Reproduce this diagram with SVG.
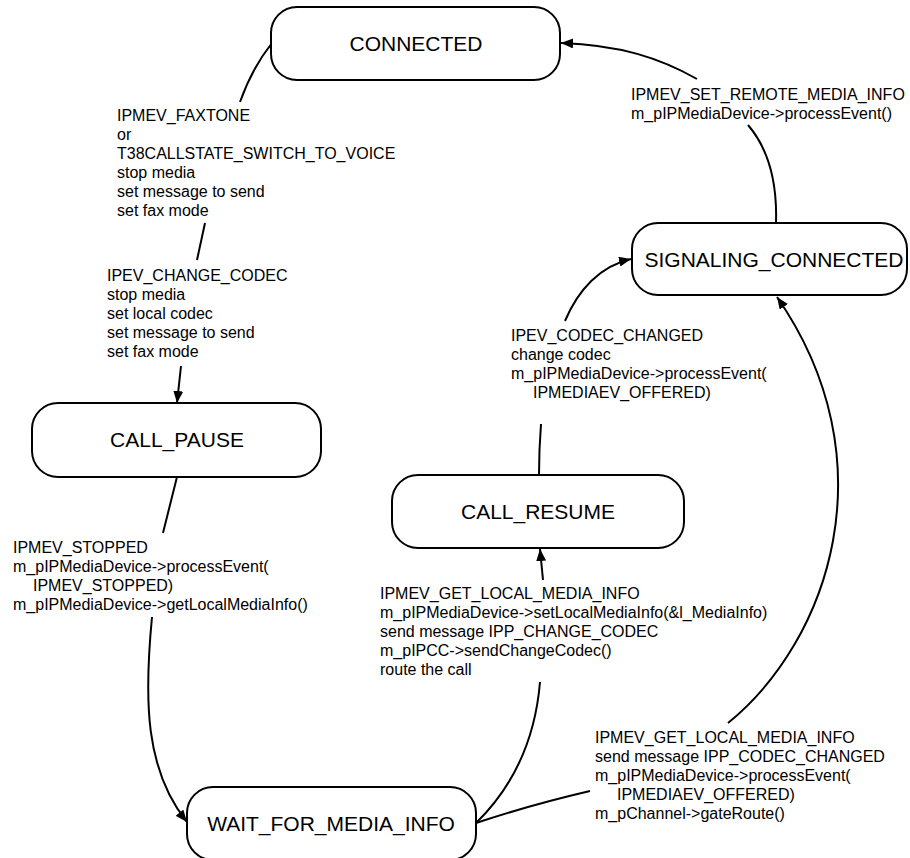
<svg xmlns="http://www.w3.org/2000/svg" width="910" height="858" viewBox="0 0 910 858">
  <defs>
    <marker id="arrow" viewBox="0 0 12 10" refX="12" refY="5" markerWidth="12" markerHeight="10" markerUnits="userSpaceOnUse" orient="auto">
      <path d="M0,0 L12,5 L0,10 Z" fill="#000"/>
    </marker>
  </defs>
  <style>
    .state rect { fill: #fff; stroke: #000; stroke-width: 2; }
    .state text { font-family: "Liberation Sans", Arial, sans-serif; font-size: 21px; fill: #000; text-anchor: middle; }
    .edge { fill: none; stroke: #000; stroke-width: 2; }
    .lbl { font-family: "Liberation Sans", Arial, sans-serif; font-size: 16px; fill: #000; }
  </style>
  <rect width="910" height="858" fill="#fff"/>

  <!-- connectors -->
  <g id="connectors">
    <!-- CONNECTED -> CALL_PAUSE -->
    <path class="edge" d="M272,43 Q252,68 240,102"/>
    <path class="edge" d="M205,223 L197,260"/>
    <path class="edge" d="M181,366 L177,403" marker-end="url(#arrow)"/>
    <!-- CALL_PAUSE -> WAIT_FOR_MEDIA_INFO -->
    <path class="edge" d="M177,477 L163,533"/>
    <path class="edge" d="M152,617 C144,700 145,770 187,822" marker-end="url(#arrow)"/>
    <!-- WAIT_FOR_MEDIA_INFO -> CALL_RESUME -->
    <path class="edge" d="M476,823 C520,780 536,730 540,682"/>
    <path class="edge" d="M543,580 L540,549" marker-end="url(#arrow)"/>
    <!-- CALL_RESUME -> SIGNALING_CONNECTED -->
    <path class="edge" d="M539,475 Q539,450 541,424"/>
    <path class="edge" d="M565,321 C578,290 600,266 631,259" marker-end="url(#arrow)"/>
    <!-- WAIT_FOR_MEDIA_INFO -> SIGNALING_CONNECTED -->
    <path class="edge" d="M476,823 Q530,805 590,791"/>
    <path class="edge" d="M728,723 C830,640 890,460 777,297" marker-end="url(#arrow)"/>
    <!-- SIGNALING_CONNECTED -> CONNECTED -->
    <path class="edge" d="M776,223 Q778,160 748,125"/>
    <path class="edge" d="M697,79 C660,58 620,45 561,43" marker-end="url(#arrow)"/>
  </g>

  <!-- transition labels -->
  <g id="labels">
    <text class="lbl" x="117" y="121">IPMEV_FAXTONE</text>
    <text class="lbl" x="117" y="140">or</text>
    <text class="lbl" x="117" y="159">T38CALLSTATE_SWITCH_TO_VOICE</text>
    <text class="lbl" x="117" y="178">stop media</text>
    <text class="lbl" x="117" y="197">set message to send</text>
    <text class="lbl" x="117" y="216">set fax mode</text>

    <text class="lbl" x="107" y="281">IPEV_CHANGE_CODEC</text>
    <text class="lbl" x="107" y="300">stop media</text>
    <text class="lbl" x="107" y="319">set local codec</text>
    <text class="lbl" x="107" y="338">set message to send</text>
    <text class="lbl" x="107" y="357">set fax mode</text>

    <text class="lbl" x="13" y="553">IPMEV_STOPPED</text>
    <text class="lbl" x="13" y="572">m_pIPMediaDevice-&gt;processEvent(</text>
    <text class="lbl" x="33" y="591">IPMEV_STOPPED)</text>
    <text class="lbl" x="13" y="610">m_pIPMediaDevice-&gt;getLocalMediaInfo()</text>

    <text class="lbl" x="380" y="599">IPMEV_GET_LOCAL_MEDIA_INFO</text>
    <text class="lbl" x="380" y="618">m_pIPMediaDevice-&gt;setLocalMediaInfo(&amp;l_MediaInfo)</text>
    <text class="lbl" x="380" y="637">send message IPP_CHANGE_CODEC</text>
    <text class="lbl" x="380" y="656">m_pIPCC-&gt;sendChangeCodec()</text>
    <text class="lbl" x="380" y="675">route the call</text>

    <text class="lbl" x="511" y="341">IPEV_CODEC_CHANGED</text>
    <text class="lbl" x="511" y="360">change codec</text>
    <text class="lbl" x="511" y="379">m_pIPMediaDevice-&gt;processEvent(</text>
    <text class="lbl" x="533" y="398">IPMEDIAEV_OFFERED)</text>

    <text class="lbl" x="595" y="743">IPMEV_GET_LOCAL_MEDIA_INFO</text>
    <text class="lbl" x="595" y="762">send message IPP_CODEC_CHANGED</text>
    <text class="lbl" x="595" y="781">m_pIPMediaDevice-&gt;processEvent(</text>
    <text class="lbl" x="617" y="800">IPMEDIAEV_OFFERED)</text>
    <text class="lbl" x="595" y="819">m_pChannel-&gt;gateRoute()</text>

    <text class="lbl" x="631" y="100">IPMEV_SET_REMOTE_MEDIA_INFO</text>
    <text class="lbl" x="631" y="119">m_pIPMediaDevice-&gt;processEvent()</text>
  </g>

  <!-- states -->
  <g id="CONNECTED" class="state">
    <rect x="271" y="7" width="289" height="73" rx="26" ry="26"/>
    <text x="416" y="51">CONNECTED</text>
  </g>
  <g id="SIGNALING_CONNECTED" class="state">
    <rect x="632" y="223" width="275" height="72" rx="26" ry="26"/>
    <text x="774" y="267">SIGNALING_CONNECTED</text>
  </g>
  <g id="CALL_PAUSE" class="state">
    <rect x="32" y="403" width="289" height="74" rx="26" ry="26"/>
    <text x="177" y="447">CALL_PAUSE</text>
  </g>
  <g id="CALL_RESUME" class="state">
    <rect x="392" y="475" width="292" height="73" rx="26" ry="26"/>
    <text x="538" y="519">CALL_RESUME</text>
  </g>
  <g id="WAIT_FOR_MEDIA_INFO" class="state">
    <rect x="187" y="787" width="289" height="73" rx="26" ry="26"/>
    <text x="331" y="831">WAIT_FOR_MEDIA_INFO</text>
  </g>
</svg>
